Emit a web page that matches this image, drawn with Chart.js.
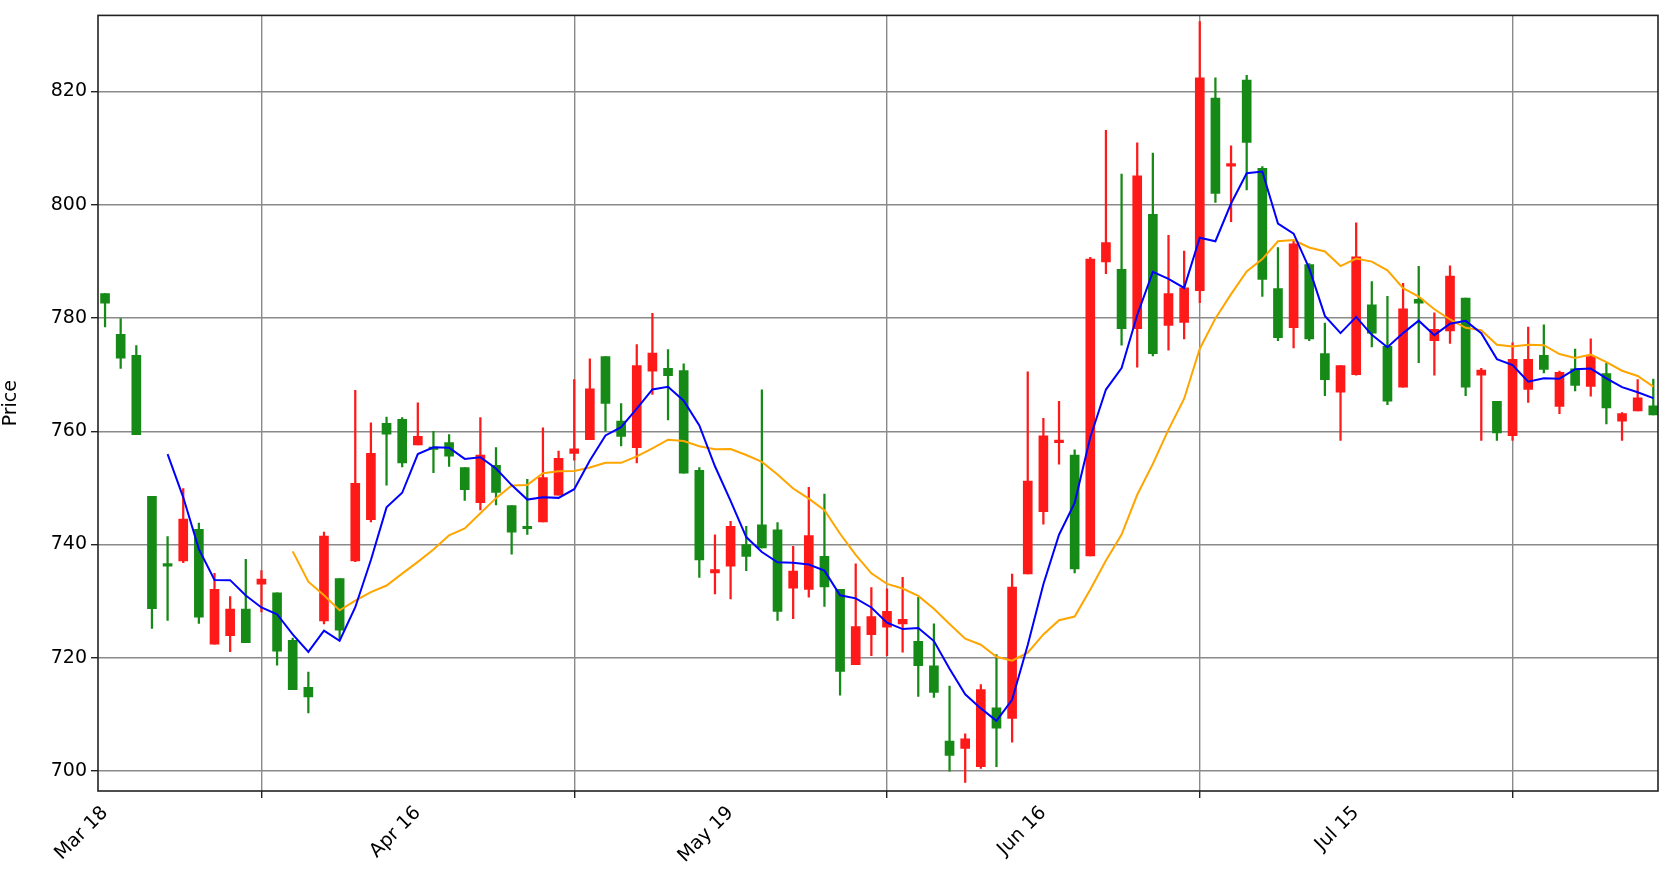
<!DOCTYPE html>
<html><head><meta charset="utf-8">
<script src="https://cdn.jsdelivr.net/npm/chart.js@4/dist/chart.umd.min.js"></script>
<style>html,body{margin:0;padding:0;background:#fff}#w{width:1675px;height:889px}</style>
</head><body><div id="w"><canvas id="c"></canvas></div>
<script>
const opens  = [784.3,777.1,773.4,748.5,736.4,737.1,742.7,722.4,723.9,728.6,733.0,731.5,723.1,714.8,726.5,734.0,737.1,744.4,761.4,762.1,
757.6,757.2,758.0,753.6,747.4,754.0,746.9,743.2,744.0,748.7,756.1,758.5,773.2,761.8,757.1,770.6,771.1,770.7,753.1,735.0,
736.2,740.0,743.5,742.6,732.3,732.1,737.9,732.1,718.8,724.1,725.4,726.0,722.9,718.6,705.3,704.0,700.8,711.2,709.3,734.8,
745.8,758.0,755.8,738.0,789.9,788.6,778.1,798.3,778.7,779.2,784.8,818.8,806.8,822.0,806.4,785.2,778.3,789.4,773.7,766.9,
770.0,782.3,775.0,767.8,783.3,776.0,777.7,783.5,769.9,765.3,759.2,767.4,773.4,764.4,771.0,767.9,770.2,761.8,763.6,764.5];
const highs  = [784.3,779.9,775.1,748.5,741.4,749.9,743.8,734.9,730.8,737.4,735.4,731.5,723.5,717.5,742.2,734.0,767.2,761.5,762.5,762.4,
765.0,760.0,759.4,753.6,762.4,757.1,746.9,751.5,760.6,756.5,769.1,772.8,773.2,764.9,775.3,780.8,774.4,771.9,753.6,741.7,
744.1,743.2,767.3,743.9,739.7,750.1,748.9,732.1,736.6,732.4,732.2,734.2,730.7,726.0,715.0,706.6,715.3,720.6,734.8,770.5,
762.3,765.3,756.7,790.7,813.1,805.4,810.9,809.1,794.6,791.8,832.3,822.4,810.4,822.8,806.7,792.4,793.5,789.6,779.1,771.6,
796.8,786.4,783.8,786.1,789.1,780.9,789.2,783.5,771.1,765.3,775.6,778.4,778.8,770.6,774.5,776.3,772.0,763.3,769.1,769.2];
const lows   = [778.4,771.1,759.4,725.2,726.6,736.8,726.1,722.4,721.1,722.7,728.1,718.7,714.4,710.3,726.0,723.4,737.0,744.0,750.5,753.7,
757.6,752.7,753.8,747.8,746.1,747.0,738.3,741.8,744.0,748.7,754.9,758.5,760.0,757.4,754.4,766.5,762.0,752.6,734.2,731.3,
730.4,735.4,739.4,726.6,726.9,730.7,729.1,713.4,718.8,720.4,720.4,721.0,713.2,713.0,700.0,698.0,700.5,700.8,705.1,734.8,
743.6,754.2,735.0,738.0,787.8,775.2,771.3,773.3,774.3,776.3,782.7,800.4,797.0,802.6,783.8,776.0,774.7,776.0,766.3,758.4,
769.9,774.9,764.7,767.8,772.1,769.9,775.5,766.3,758.4,758.4,758.4,765.1,770.3,763.1,767.1,766.2,761.3,758.4,763.6,762.9];
const closes = [782.6,772.9,759.4,728.7,736.2,744.5,727.2,732.1,728.6,722.7,733.9,721.2,714.4,713.1,741.5,724.9,750.8,756.1,759.5,754.4,
759.1,756.8,755.6,749.7,755.8,749.2,742.2,742.8,751.8,755.2,756.9,767.5,764.9,759.1,771.6,773.8,769.8,752.6,737.3,735.6,
743.2,737.9,739.4,728.2,735.3,741.6,732.5,717.6,725.5,727.3,728.2,726.8,718.6,713.9,702.8,705.7,714.4,707.6,732.5,751.2,
759.2,758.2,735.7,790.4,793.3,778.1,805.1,773.7,784.3,785.3,822.4,802.0,807.0,811.0,786.8,776.5,793.1,776.3,769.1,771.6,
790.8,777.3,765.3,781.6,782.6,778.0,787.4,767.8,770.8,759.7,772.7,772.7,770.9,770.4,768.1,773.2,764.1,763.1,765.9,762.9];
const tickIndex  = [0,20,40,60,80];
const tickLabels = ['Mar 18','Apr 16','May 19','Jun 16','Jul 15'];
const yTicks = [700,720,740,760,780,800,820];

function ma(arr,n){const out=[];for(let i=n-1;i<arr.length;i++){let s=0;for(let j=i-n+1;j<=i;j++)s+=arr[j];out.push({x:i,y:s/n});}return out;}
const UP='#ff1a1a', DN='#168a16';
const cols = closes.map((c,i)=> c>=opens[i]?UP:DN);
const bodies = closes.map((c,i)=>({x:i,y:[Math.min(c,opens[i]),Math.max(c,opens[i])+ (Math.abs(c-opens[i])<0.25?0.25:0)]}));
const wicks  = closes.map((c,i)=>({x:i,y:[lows[i],highs[i]]}));

const frame={id:'frame',afterDraw(ch){const a=ch.chartArea,x=ch.ctx;x.save();x.strokeStyle='#222';x.lineWidth=1.6;x.strokeRect(a.left,a.top,a.right-a.left,a.bottom-a.top);x.restore();}};
const F='DejaVu Sans';
new Chart(document.getElementById('c'),{
  type:'bar',
  data:{datasets:[
    {type:'line',data:ma(closes,5),borderColor:'#0000ff',borderWidth:2,pointRadius:0,order:0},
    {type:'line',data:ma(closes,13),borderColor:'#ffa500',borderWidth:2,pointRadius:0,order:0},
    {data:bodies,backgroundColor:cols,barThickness:9,order:1,grouped:false},
    {data:wicks,backgroundColor:cols,barThickness:1.6,order:2,grouped:false}
  ]},
  options:{responsive:true,maintainAspectRatio:false,animation:false,
    layout:{padding:{left:0,top:15,right:17,bottom:0}},
    plugins:{legend:{display:false},tooltip:{enabled:false}},
    scales:{
      x:{type:'linear',min:-0.45,max:99.3,offset:false,
        afterBuildTicks(s){s.ticks=tickIndex.map(v=>({value:v}));},
        afterFit(s){s.height=98;},
        ticks:{callback:(v)=>tickLabels[tickIndex.indexOf(v)]??'',maxRotation:45,minRotation:45,color:'#000',font:{family:F,size:19},padding:4},
        grid:{color:'#8a8a8a',lineWidth:1.4,borderDash:[6,3],tickBorderDash:[],tickColor:'#222',tickLength:7},
        border:{display:false}},
      y:{min:696.5,max:833.4,
        afterBuildTicks(s){s.ticks=yTicks.map(v=>({value:v}));},
        afterFit(s){s.width=98;},
        ticks:{color:'#000',font:{family:F,size:19},padding:4},
        title:{display:true,text:'Price',color:'#000',font:{family:F,size:19},padding:0},
        grid:{color:'#8a8a8a',lineWidth:1.4,borderDash:[6,3],tickBorderDash:[],tickColor:'#222',tickLength:7},
        border:{display:false}}
    }},
  plugins:[frame]
});
</script></body></html>
